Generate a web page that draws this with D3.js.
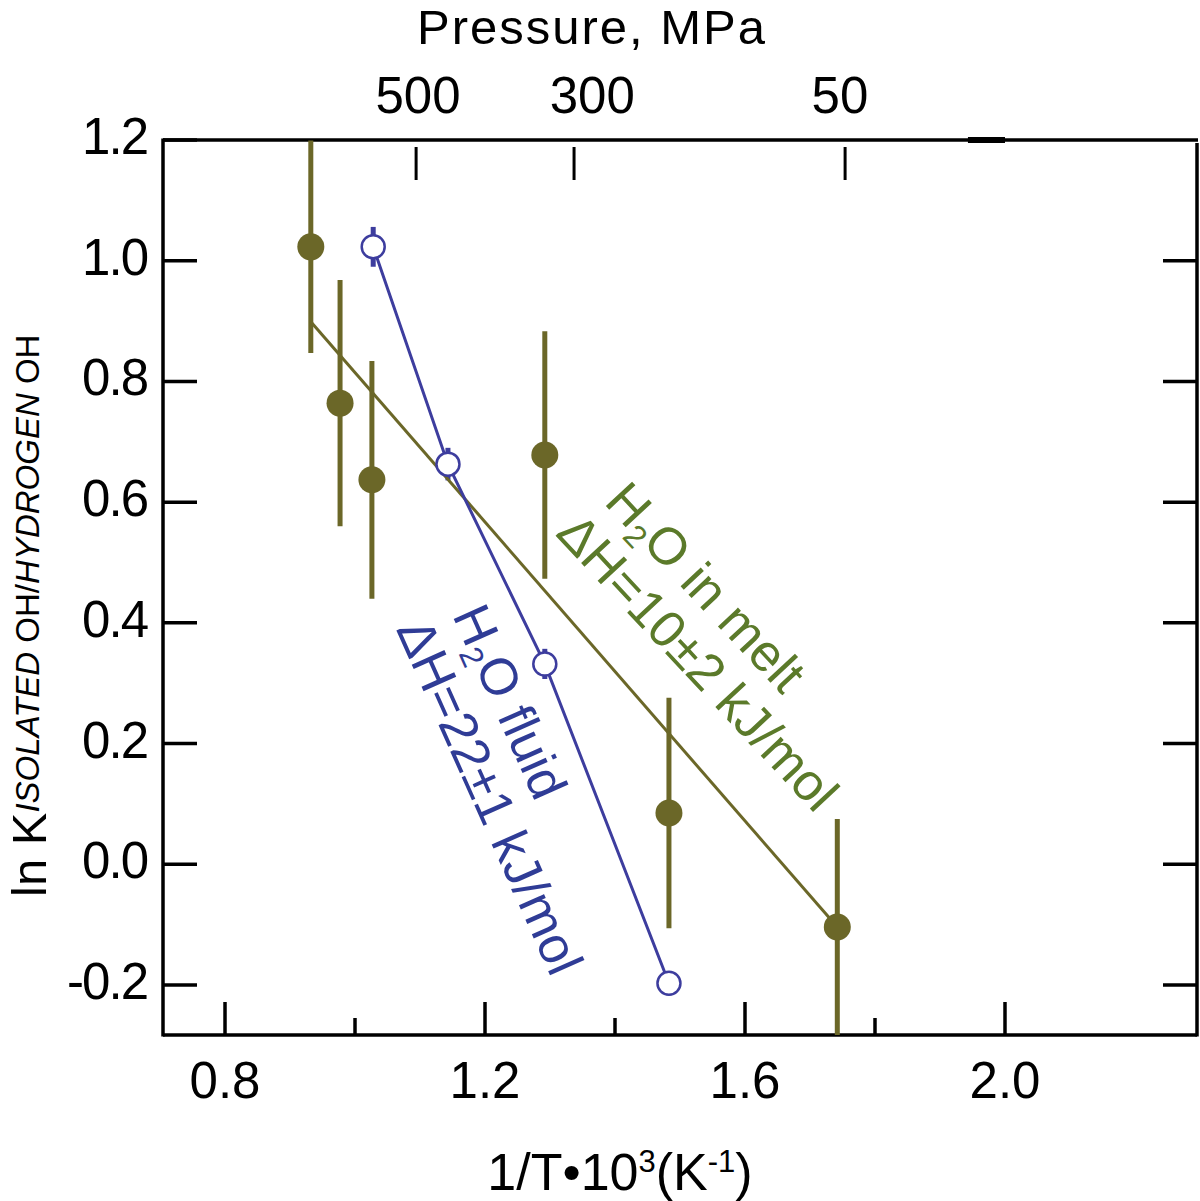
<!DOCTYPE html>
<html>
<head>
<meta charset="utf-8">
<script src="https://cdn.jsdelivr.net/npm/d3@7"></script>
<style>
  body { margin: 0; background: #fff; }
  svg text { font-family: "Liberation Sans", Arial, Helvetica, sans-serif; }
</style>
</head>
<body>
<svg id="chart"></svg>
<script>

// H2O in melt (filled symbols)
var meltX = [0.932, 0.977, 1.026, 1.292, 1.483, 1.742];
var meltY = [1.023, 0.764, 0.637, 0.678, 0.085, -0.104];
var meltErr = [0.176, 0.204, 0.197, 0.205, 0.191, 0.179];

// H2O fluid (open symbols)
var fluidX = [1.028, 1.143, 1.292, 1.483];
var fluidY = [1.023, 0.663, 0.332, -0.197];
var fluidErr = [0.033, 0.027, 0.025, 0.02];

// fitted line for the melt data
var meltFitX = [0.932, 1.742];
var meltFitY = [0.899, -0.104];

var xMajor = [0.8, 1.2, 1.6, 2.0];
var xMinor = [1.0, 1.4, 1.8];
var yTicks = [1.2, 1.0, 0.8, 0.6, 0.4, 0.2, 0.0, -0.2];

// top axis: pressure (MPa) placed on the 1/T scale
var pressureLabels = ["500", "300", "50"];
var pressureTickAt = [1.094, 1.337, 1.754];
var pressureLabelAt = [1.097, 1.365, 1.746];

var olive = "#6b6728",
    meltText = "#5b7a2a",
    blue = "#3d3d9e",
    blueText = "#2f3c96";

var width = 1200,
    height = 1201;

var margin = { top: 140, right: 3, bottom: 166, left: 163 };

var x = d3.scaleLinear()
        .domain([0.7046, 2.2954])
        .range([margin.left, width - margin.right]);

var y = d3.scaleLinear()
        .domain([-0.2828, 1.2])
        .range([height - margin.bottom, margin.top]);

var fmt = function (d) { return d3.format(".1f")(d).replace("\u2212", "-"); };

var svg = d3.select("#chart")
        .attr("width", width)
        .attr("height", height);

var x0 = x.range()[0], x1 = x.range()[1],
    y0 = y.range()[0], y1 = y.range()[1];

svg.append("defs")
    .append("clipPath")
    .attr("id", "plot")
    .append("rect")
    .attr("x", x0)
    .attr("y", y1)
    .attr("width", x1 - x0)
    .attr("height", y0 - y1);

// frame
var frame = svg.append("g")
        .attr("stroke", "#000")
        .attr("stroke-width", 3.5)
        .attr("fill", "none");

frame.append("line").attr("x1", x0).attr("x2", x0).attr("y1", y1 - 1.5).attr("y2", y0 + 1.5);
frame.append("line").attr("x1", x0).attr("x2", x1).attr("y1", y0).attr("y2", y0);
frame.append("line").attr("x1", x0).attr("x2", x1 + 1).attr("y1", y1).attr("y2", y1);
frame.append("line").attr("x1", x1).attr("x2", x1).attr("y1", y1 + 3).attr("y2", y0 + 1.5);

// thick bit on the top line
frame.append("line")
    .attr("x1", x(1.943)).attr("x2", x(2.0))
    .attr("y1", y1).attr("y2", y1)
    .attr("stroke-width", 6);

// left and right ticks
yTicks.forEach(function (v) {
    frame.append("line")
        .attr("x1", x0).attr("x2", x0 + 34)
        .attr("y1", y(v)).attr("y2", y(v));
    if (v < 1.2) {
        frame.append("line")
            .attr("x1", x1).attr("x2", x1 - 34)
            .attr("y1", y(v)).attr("y2", y(v));
    }
});

// bottom ticks
xMajor.forEach(function (v) {
    frame.append("line")
        .attr("x1", x(v)).attr("x2", x(v))
        .attr("y1", y0).attr("y2", y0 - 33);
});
xMinor.forEach(function (v) {
    frame.append("line")
        .attr("x1", x(v)).attr("x2", x(v))
        .attr("y1", y0).attr("y2", y0 - 17);
});

// top (pressure) ticks
pressureTickAt.forEach(function (v) {
    frame.append("line")
        .attr("x1", x(v)).attr("x2", x(v))
        .attr("y1", y1 + 7).attr("y2", y1 + 40)
        .attr("stroke-width", 3);
});

// tick labels
svg.append("g")
    .selectAll("text")
    .data(yTicks)
    .join("text")
    .attr("x", x0 - 16)
    .attr("y", function (d) { return y(d) + 14; })
    .attr("text-anchor", "end")
    .attr("font-size", 51)
    .attr("letter-spacing", -2)
    .text(fmt);

svg.append("g")
    .selectAll("text")
    .data(xMajor)
    .join("text")
    .attr("x", function (d) { return x(d); })
    .attr("y", y0 + 63)
    .attr("text-anchor", "middle")
    .attr("font-size", 51)
    .text(fmt);

svg.append("g")
    .selectAll("text")
    .data(pressureLabels)
    .join("text")
    .attr("x", function (d, i) { return x(pressureLabelAt[i]); })
    .attr("y", 113)
    .attr("text-anchor", "middle")
    .attr("font-size", 51)
    .text(function (d) { return d; });

// axis titles
svg.append("text")
    .attr("x", 592)
    .attr("y", 44)
    .attr("text-anchor", "middle")
    .attr("font-size", 49)
    .attr("letter-spacing", 2)
    .text("Pressure, MPa");

var xt = svg.append("text")
        .attr("x", 620)
        .attr("y", 1190)
        .attr("text-anchor", "middle")
        .attr("font-size", 52);
xt.append("tspan").text("1/T\u202210");
xt.append("tspan").attr("font-size", 31).attr("dy", -18).text("3");
xt.append("tspan").attr("dy", 18).text("(K");
xt.append("tspan").attr("font-size", 31).attr("dy", -18).text("-1");
xt.append("tspan").attr("dy", 18).text(")");

var yt = svg.append("text")
        .attr("transform", "translate(46,897) rotate(-90)")
        .attr("font-size", 49);
yt.append("tspan").text("ln K");
yt.append("tspan").attr("font-size", 33).attr("dy", -7).attr("font-style", "italic").text("ISOLATED");
yt.append("tspan").attr("font-size", 33).text(" OH/");
yt.append("tspan").attr("font-size", 33).attr("font-style", "italic").text("HYDROGEN");
yt.append("tspan").attr("font-size", 33).text(" OH");

// data
var plot = svg.append("g").attr("clip-path", "url(#plot)");

var melt = meltX.map(function (v, i) {
    return { x: v, y: meltY[i], e: meltErr[i] };
});
var fluid = fluidX.map(function (v, i) {
    return { x: v, y: fluidY[i], e: fluidErr[i] };
});

plot.selectAll(".melt-err")
    .data(melt)
    .join("line")
    .attr("class", "melt-err")
    .attr("x1", function (d) { return x(d.x); })
    .attr("x2", function (d) { return x(d.x); })
    .attr("y1", function (d) { return y(d.y + d.e); })
    .attr("y2", function (d) { return y(d.y - d.e); })
    .attr("stroke", olive)
    .attr("stroke-width", 5);

plot.selectAll(".fluid-err")
    .data(fluid)
    .join("line")
    .attr("class", "fluid-err")
    .attr("x1", function (d) { return x(d.x); })
    .attr("x2", function (d) { return x(d.x); })
    .attr("y1", function (d) { return y(d.y + d.e); })
    .attr("y2", function (d) { return y(d.y - d.e); })
    .attr("stroke", blue)
    .attr("stroke-width", 5);

plot.append("path")
    .datum(meltFitX.map(function (v, i) { return [v, meltFitY[i]]; }))
    .attr("d", d3.line()
        .x(function (d) { return x(d[0]); })
        .y(function (d) { return y(d[1]); }))
    .attr("fill", "none")
    .attr("stroke", olive)
    .attr("stroke-width", 3);

plot.append("path")
    .datum(fluid)
    .attr("d", d3.line()
        .x(function (d) { return x(d.x); })
        .y(function (d) { return y(d.y); }))
    .attr("fill", "none")
    .attr("stroke", blue)
    .attr("stroke-width", 3);

plot.selectAll(".melt-pt")
    .data(melt)
    .join("circle")
    .attr("class", "melt-pt")
    .attr("cx", function (d) { return x(d.x); })
    .attr("cy", function (d) { return y(d.y); })
    .attr("r", 13.5)
    .attr("fill", olive);

plot.selectAll(".fluid-pt")
    .data(fluid)
    .join("circle")
    .attr("class", "fluid-pt")
    .attr("cx", function (d) { return x(d.x); })
    .attr("cy", function (d) { return y(d.y); })
    .attr("r", 11.5)
    .attr("fill", "#fff")
    .attr("stroke", blue)
    .attr("stroke-width", 2.5);

// annotations
function label(at, angle, color, first, second) {
    var g = svg.append("g")
            .attr("transform", "translate(" + x(at[0]) + "," + y(at[1]) + ") rotate(" + angle + ")")
            .attr("fill", color)
            .attr("font-size", 52);
    var t = g.append("text");
    t.append("tspan").text("H");
    t.append("tspan").attr("font-size", 32).attr("dy", 10).text("2");
    t.append("tspan").attr("dy", -10).text(first);
    g.append("text")
        .attr("x", -10)
        .attr("y", 57)
        .text(second);
}

label([1.3815, 0.5986], 47, meltText, "O in melt", "\u0394H=10\u00b12 kJ/mol");
label([1.1492, 0.4131], 66, blueText, "O fluid", "\u0394H=22\u00b11 kJ/mol");

</script>
</body>
</html>
